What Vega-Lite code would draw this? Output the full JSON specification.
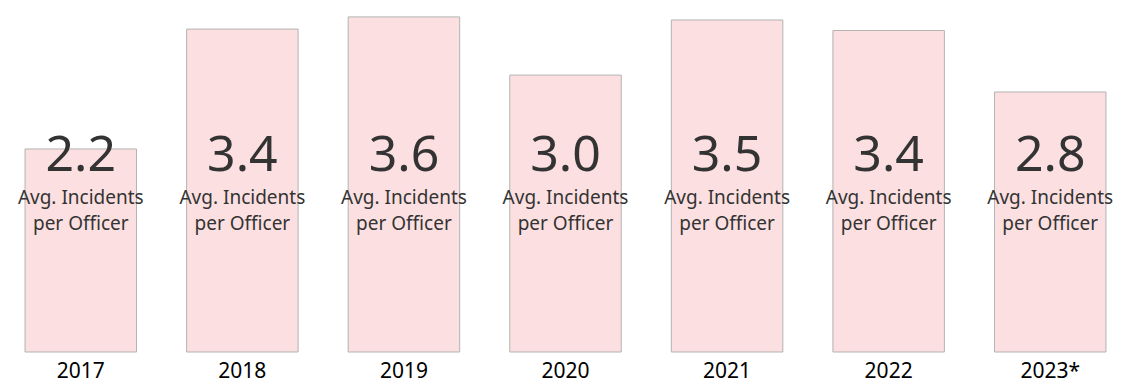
{
  "$schema": "https://vega.github.io/schema/vega-lite/v6.json",
  "width": 1131,
  "height": 352,
  "padding": {"left": 0, "top": 0, "right": 0, "bottom": 33},
  "autosize": {"type": "none"},
  "background": "white",
  "config": {"view": {"stroke": null}, "font": "Noto Sans"},
  "data": {
    "values": [
      {"year": "2017", "value": 2.163, "label": "2.2"},
      {"year": "2018", "value": 3.44, "label": "3.4"},
      {"year": "2019", "value": 3.57, "label": "3.6"},
      {"year": "2020", "value": 2.95, "label": "3.0"},
      {"year": "2021", "value": 3.537, "label": "3.5"},
      {"year": "2022", "value": 3.425, "label": "3.4"},
      {"year": "2023*", "value": 2.77, "label": "2.8"}
    ]
  },
  "encoding": {
    "x": {
      "field": "year", "type": "nominal", "sort": null,
      "scale": {"paddingInner": 0.31, "paddingOuter": 0.155},
      "axis": {"title": null, "domain": false, "ticks": false, "labelAngle": 0, "labelFontSize": 21, "labelColor": "#000000", "labelPadding": 8, "labelFont": "Noto Sans"}
    }
  },
  "layer": [
    {
      "mark": {"type": "bar", "fill": "#fce0e1", "stroke": "#b3b3b3", "strokeWidth": 1},
      "encoding": {
        "y": {"field": "value", "type": "quantitative", "scale": {"domain": [0, 3.75], "nice": false, "zero": true}, "axis": null}
      }
    },
    {
      "mark": {"type": "text", "fontSize": 50, "color": "#333333", "baseline": "alphabetic", "align": "center"},
      "encoding": {
        "y": {"datum": 1.93, "type": "quantitative"},
        "text": {"field": "label"}
      }
    },
    {
      "mark": {"type": "text", "fontSize": 19, "color": "#333333", "baseline": "alphabetic", "align": "center"},
      "encoding": {
        "y": {"datum": 1.577, "type": "quantitative"},
        "text": {"value": "Avg. Incidents"}
      }
    },
    {
      "mark": {"type": "text", "fontSize": 19, "color": "#333333", "baseline": "alphabetic", "align": "center"},
      "encoding": {
        "y": {"datum": 1.305, "type": "quantitative"},
        "text": {"value": "per Officer"}
      }
    }
  ]
}
